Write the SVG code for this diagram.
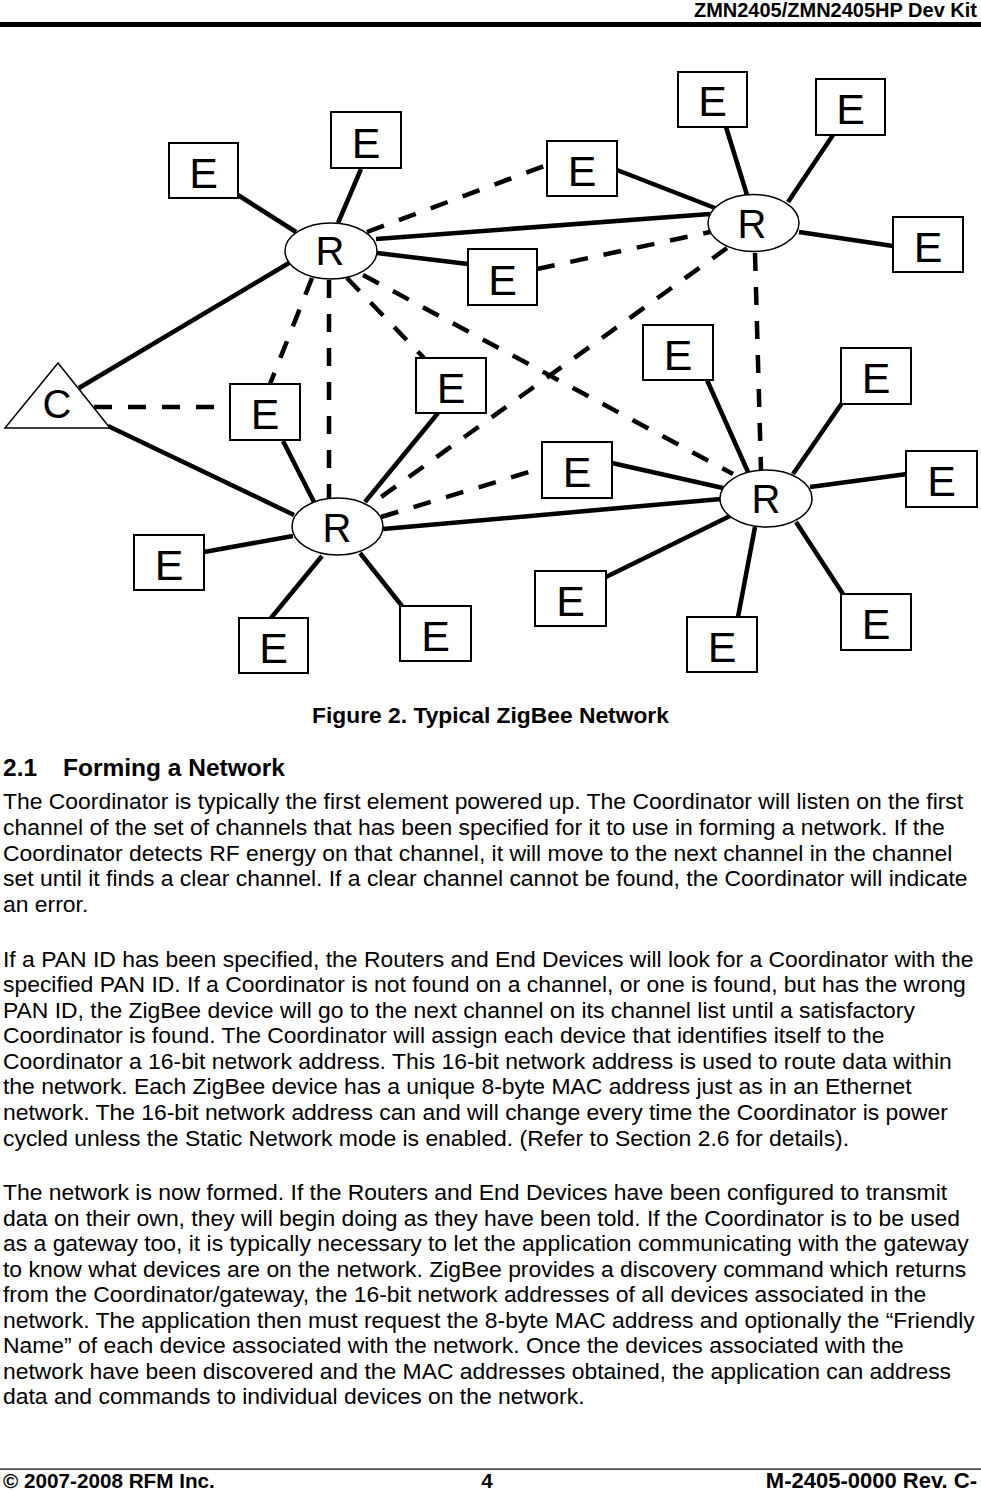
<svg xmlns="http://www.w3.org/2000/svg" width="981" height="1491" viewBox="0 0 981 1491">
<style>
.box{fill:#fff;stroke:#000;stroke-width:2}
.rtr{fill:#fff;stroke:#000;stroke-width:1.5}
.lbl{font-family:"Liberation Sans",Arial,sans-serif;font-size:43px;text-anchor:middle;fill:#000}
.rl{font-family:"Liberation Sans",Arial,sans-serif;font-size:40px;text-anchor:middle;fill:#000}
.solid{stroke:#000;stroke-width:4.5;fill:none}
.dash{stroke:#000;stroke-width:4.5;fill:none;stroke-dasharray:18 16}
.body{font-family:"Liberation Sans",Arial,sans-serif;font-size:22.9px;fill:#000}
.bold{font-family:"Liberation Sans",Arial,sans-serif;font-weight:bold;fill:#000}
</style>
<rect width="981" height="1491" fill="#fff"/>
<!-- header -->
<text class="bold" x="977" y="17" font-size="20" text-anchor="end">ZMN2405/ZMN2405HP Dev Kit</text>
<rect x="0" y="22" width="981" height="5" fill="#000"/>

<g id="connectors">
  <!-- solid -->
  <line class="solid" x1="238" y1="195" x2="296" y2="232"/>
  <line class="solid" x1="361" y1="169" x2="338" y2="223"/>
  <line class="solid" x1="376" y1="239" x2="710" y2="214"/>
  <line class="solid" x1="377" y1="253" x2="468" y2="264"/>
  <line class="solid" x1="79" y1="388" x2="289" y2="263"/>
  <line class="solid" x1="108" y1="426" x2="294" y2="515"/>
  <line class="solid" x1="283" y1="441" x2="314" y2="502"/>
  <line class="solid" x1="438" y1="413" x2="365" y2="502"/>
  <line class="solid" x1="383" y1="529" x2="721" y2="499"/>
  <line class="solid" x1="204" y1="552" x2="293" y2="536"/>
  <line class="solid" x1="271" y1="618" x2="322" y2="556"/>
  <line class="solid" x1="402" y1="606" x2="360" y2="553"/>
  <line class="solid" x1="726" y1="127" x2="747" y2="195"/>
  <line class="solid" x1="833" y1="135" x2="788" y2="202"/>
  <line class="solid" x1="617" y1="170" x2="715" y2="208"/>
  <line class="solid" x1="799" y1="232" x2="893" y2="246"/>
  <line class="solid" x1="707" y1="380" x2="748" y2="472"/>
  <line class="solid" x1="842" y1="403" x2="793" y2="474"/>
  <line class="solid" x1="810" y1="487" x2="907" y2="474"/>
  <line class="solid" x1="612" y1="463" x2="723" y2="488"/>
  <line class="solid" x1="606" y1="577" x2="730" y2="516"/>
  <line class="solid" x1="738" y1="617" x2="755" y2="527"/>
  <line class="solid" x1="843" y1="594" x2="796" y2="522"/>
  <!-- dashed -->
  <line class="dash" x1="367" y1="232" x2="547" y2="165"/>
  <line class="dash" x1="537" y1="269" x2="710" y2="232"/>
  <line class="dash" x1="312" y1="278" x2="270" y2="384"/>
  <line class="dash" x1="329" y1="280" x2="329" y2="498"/>
  <line class="dash" x1="347" y1="278" x2="424" y2="358"/>
  <line class="dash" x1="363" y1="275" x2="733" y2="474"/>
  <line class="dash" x1="727" y1="248" x2="381" y2="497"/>
  <line class="dash" x1="755" y1="253" x2="761" y2="470"/>
  <line class="dash" x1="94" y1="407" x2="230" y2="407"/>
  <line class="dash" x1="381" y1="517" x2="542" y2="468"/>
</g>

<g id="coordinator">
  <polygon points="58,363 5,428 110,428" fill="#fff" stroke="#000" stroke-width="1.5"/>
  <text class="rl" x="57" y="418" font-size="42">C</text>
</g>

<g id="router1">
  <ellipse class="rtr" cx="331" cy="251" rx="46" ry="28"/>
  <text class="rl" x="330" y="265">R</text>
</g>
<g id="router2">
  <ellipse class="rtr" cx="337.5" cy="526.5" rx="45.5" ry="28.5"/>
  <text class="rl" x="337" y="542">R</text>
</g>
<g id="router3">
  <ellipse class="rtr" cx="753.5" cy="223" rx="45.5" ry="28.5"/>
  <text class="rl" x="752" y="238">R</text>
</g>
<g id="router4">
  <ellipse class="rtr" cx="766" cy="498.5" rx="46" ry="28.5"/>
  <text class="rl" x="766" y="513">R</text>
</g>

<g id="end1"><rect class="box" x="169" y="143" width="69" height="55"/><text class="lbl" x="203.5" y="188">E</text></g>
<g id="end2"><rect class="box" x="331" y="112" width="70" height="56"/><text class="lbl" x="366" y="158">E</text></g>
<g id="end3"><rect class="box" x="468" y="249" width="69" height="56"/><text class="lbl" x="502.5" y="295">E</text></g>
<g id="end4"><rect class="box" x="547" y="141" width="70" height="55"/><text class="lbl" x="582" y="186">E</text></g>
<g id="end5"><rect class="box" x="678" y="72" width="69" height="55"/><text class="lbl" x="712.5" y="116">E</text></g>
<g id="end6"><rect class="box" x="816" y="79" width="69" height="56"/><text class="lbl" x="850.5" y="124">E</text></g>
<g id="end7"><rect class="box" x="893" y="217" width="70" height="55"/><text class="lbl" x="928" y="262">E</text></g>
<g id="end8"><rect class="box" x="230" y="384" width="70" height="56"/><text class="lbl" x="265" y="429">E</text></g>
<g id="end9"><rect class="box" x="416" y="358" width="70" height="55"/><text class="lbl" x="451" y="403">E</text></g>
<g id="end10"><rect class="box" x="643" y="325" width="70" height="55"/><text class="lbl" x="678" y="370">E</text></g>
<g id="end11"><rect class="box" x="841" y="348" width="70" height="56"/><text class="lbl" x="876" y="393">E</text></g>
<g id="end12"><rect class="box" x="542" y="442" width="70" height="56"/><text class="lbl" x="577" y="487">E</text></g>
<g id="end13"><rect class="box" x="906" y="451" width="71" height="56"/><text class="lbl" x="941.5" y="496">E</text></g>
<g id="end14"><rect class="box" x="134" y="535" width="70" height="55"/><text class="lbl" x="169" y="580">E</text></g>
<g id="end15"><rect class="box" x="239" y="618" width="69" height="55"/><text class="lbl" x="273.5" y="663">E</text></g>
<g id="end16"><rect class="box" x="400" y="606" width="71" height="55"/><text class="lbl" x="435.5" y="651">E</text></g>
<g id="end17"><rect class="box" x="535" y="571" width="71" height="55"/><text class="lbl" x="570.5" y="616">E</text></g>
<g id="end18"><rect class="box" x="687" y="617" width="70" height="55"/><text class="lbl" x="722" y="662">E</text></g>
<g id="end19"><rect class="box" x="841" y="594" width="70" height="56"/><text class="lbl" x="876" y="639">E</text></g>

<!-- caption and body -->
<text class="bold" x="490.5" y="722.7" font-size="22.8" text-anchor="middle">Figure 2. Typical ZigBee Network</text>
<text class="bold" x="3" y="776" font-size="24.5">2.1</text>
<text class="bold" x="63" y="776" font-size="24.5">Forming a Network</text>

<g class="body">
<text x="3" y="809.3">The Coordinator is typically the first element powered up. The Coordinator will listen on the first</text>
<text x="3" y="835">channel of the set of channels that has been specified for it to use in forming a network. If the</text>
<text x="3" y="860.7">Coordinator detects RF energy on that channel, it will move to the next channel in the channel</text>
<text x="3" y="886.3">set until it finds a clear channel. If a clear channel cannot be found, the Coordinator will indicate</text>
<text x="3" y="911.7">an error.</text>
<text x="3" y="966.7">If a PAN ID has been specified, the Routers and End Devices will look for a Coordinator with the</text>
<text x="3" y="992.3">specified PAN ID. If a Coordinator is not found on a channel, or one is found, but has the wrong</text>
<text x="3" y="1017.7">PAN ID, the ZigBee device will go to the next channel on its channel list until a satisfactory</text>
<text x="3" y="1043.3">Coordinator is found. The Coordinator will assign each device that identifies itself to the</text>
<text x="3" y="1069">Coordinator a 16-bit network address. This 16-bit network address is used to route data within</text>
<text x="3" y="1094.3">the network. Each ZigBee device has a unique 8-byte MAC address just as in an Ethernet</text>
<text x="3" y="1120">network. The 16-bit network address can and will change every time the Coordinator is power</text>
<text x="3" y="1145.7">cycled unless the Static Network mode is enabled. (Refer to Section 2.6 for details).</text>
<text x="3" y="1200">The network is now formed. If the Routers and End Devices have been configured to transmit</text>
<text x="3" y="1225.7">data on their own, they will begin doing as they have been told. If the Coordinator is to be used</text>
<text x="3" y="1251">as a gateway too, it is typically necessary to let the application communicating with the gateway</text>
<text x="3" y="1276.7">to know what devices are on the network. ZigBee provides a discovery command which returns</text>
<text x="3" y="1302.3">from the Coordinator/gateway, the 16-bit network addresses of all devices associated in the</text>
<text x="3" y="1327.7">network. The application then must request the 8-byte MAC address and optionally the “Friendly</text>
<text x="3" y="1353.3">Name” of each device associated with the network. Once the devices associated with the</text>
<text x="3" y="1379">network have been discovered and the MAC addresses obtained, the application can address</text>
<text x="3" y="1404.3">data and commands to individual devices on the network.</text>
</g>

<!-- footer -->
<rect x="0" y="1468.5" width="981" height="1.2" fill="#000"/>
<text class="bold" x="3" y="1488" font-size="20.7">© 2007-2008 RFM Inc.</text>
<text class="bold" x="487" y="1488" font-size="20.7" text-anchor="middle">4</text>
<text class="bold" x="977" y="1488" font-size="22" text-anchor="end">M-2405-0000 Rev. C-</text>
</svg>
